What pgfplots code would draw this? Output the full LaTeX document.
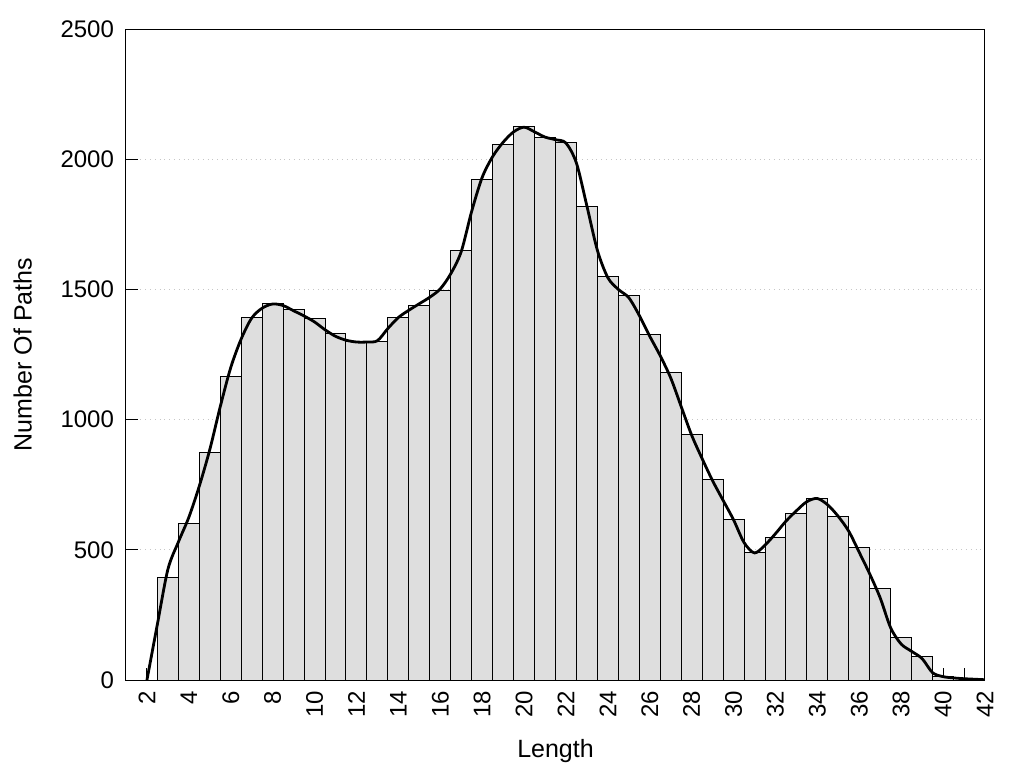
\documentclass[border=0pt]{standalone}
\usepackage{pgfplots}
\pgfplotsset{compat=1.18}
\usepackage{fontspec}
\setmainfont{Liberation Sans}
\definecolor{barfill}{HTML}{DEDEDE}
\begin{document}
\begin{tikzpicture}
\begin{axis}[
  at={(0,0)}, anchor=south west,
  scale only axis, width=429.5pt, height=325.5pt,
  xmin=1, xmax=42, ymin=0, ymax=2500,
  xtick={2,4,...,42}, minor xtick={1,...,42},
  ytick={0,500,...,2500},
  tick align=inside, tick pos=left,
  major tick length=6pt, minor tick length=6pt,
  every tick/.style={black, line width=0.5pt},
  axis line style={line width=0.5pt},
  ymajorgrids, grid style={dotted, gray!45, line width=0.5pt},
  /pgf/number format/assume math mode=true,
  /pgf/number format/set thousands separator={},
  tick label style={font=\fontsize{12}{14}\selectfont},
  x tick label style={rotate=90, anchor=east, xshift=-2pt},
  y tick label style={xshift=-2.5pt},
  label style={font=\fontsize{12.5}{15}\selectfont},
  xlabel={Length},
  ylabel={Number Of Paths},
  xlabel style={at={(axis description cs:0.5,-0.109)}, anchor=center},
  ylabel style={at={(axis description cs:-0.1013,0.5)}, anchor=south, rotate=0},
]
\addplot[ybar, bar width=1, bar shift=0pt, fill=barfill, draw=black, line width=0.5pt] coordinates {
(3,392) (4,600) (5,873) (6,1167) (7,1391) (8,1447) (9,1421) (10,1388)
(11,1332) (12,1299) (13,1299) (14,1391) (15,1440) (16,1494) (17,1651)
(18,1924) (19,2058) (20,2127) (21,2085) (22,2065) (23,1820) (24,1548)
(25,1475) (26,1325) (27,1180) (28,942) (29,769) (30,615) (31,489)
(32,547) (33,639) (34,697) (35,626) (36,508) (37,351) (38,164) (39,91) (40,14)
};
\addplot[black, line width=1.4pt, smooth, tension=0.5] coordinates {
(2,0) (2.5,215) (3,425) (3.5,530) (4,625) (4.5,745) (5,885) (5.5,1050)
(6,1200) (6.5,1310) (7,1390) (7.5,1428) (8,1444) (8.5,1438) (9,1418)
(9.5,1398) (10,1375) (10.5,1345) (11,1320) (11.5,1305) (12,1298) (12.5,1298)
(13,1303) (13.5,1350) (14,1392) (14.5,1420) (15,1445) (15.5,1470) (16,1502)
(16.5,1560) (17,1645) (17.5,1800) (18,1930) (18.5,2010) (19,2065) (19.5,2105)
(20,2123) (20.5,2105) (21,2085) (21.5,2075) (22,2062) (22.5,1985) (23,1820)
(23.5,1650) (24,1545) (24.5,1500) (25,1468) (25.5,1400) (26,1320) (26.5,1245)
(27,1160) (27.5,1050) (28,940) (28.5,850) (29,765) (29.5,690) (30,615)
(30.5,528) (31,488) (31.5,518) (32,562) (32.5,610) (33,650) (33.5,685)
(34,697) (34.5,672) (35,628) (35.5,571) (36,490) (36.5,407) (37,315)
(37.5,200) (38,138) (38.5,110) (39,82) (39.5,28) (40,13) (40.5,8) (41,5)
(41.5,3) (42,1)
};
\end{axis}
\pgfresetboundingbox
\useasboundingbox (-63pt,-44pt) rectangle (449pt,340pt);
\end{tikzpicture}
\end{document}
